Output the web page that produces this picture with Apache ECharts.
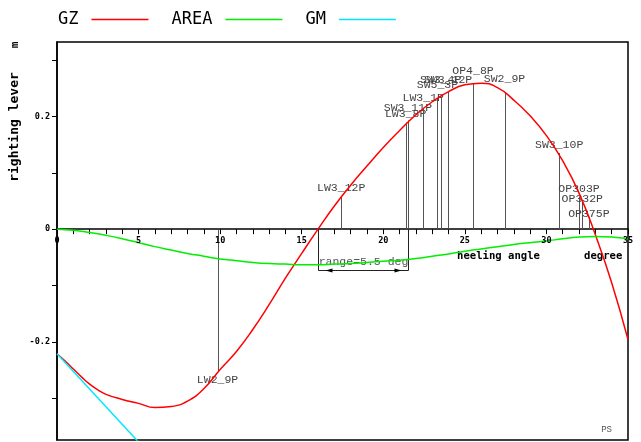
<!DOCTYPE html>
<html>
<head>
<meta charset="utf-8">
<script src="https://cdn.jsdelivr.net/npm/echarts@6/dist/echarts.min.js"></script>
<style>
  html, body { margin: 0; padding: 0; background: #fff; }
  #chart { width: 641px; height: 442px; }
</style>
</head>
<body>
<div id="chart"></div>
<script>
// ---------- data ----------
const gzAngles = [0, 0.5, 1, 1.5, 2, 2.5, 3, 4, 5, 6, 7, 8, 9, 10, 11, 12, 13, 14, 15, 16, 17, 18, 19, 20, 21, 22, 23, 24, 25, 26, 27, 28, 29, 30, 31, 32, 33, 34, 35];
const gzValues = [-0.221, -0.234, -0.248, -0.262, -0.275, -0.285, -0.293, -0.302, -0.309, -0.3165, -0.3145, -0.305, -0.283, -0.249, -0.217, -0.178, -0.134, -0.087, -0.043, 0.000, 0.041, 0.078, 0.112, 0.145, 0.175, 0.203, 0.226, 0.244, 0.256, 0.259, 0.251, 0.229, 0.201, 0.166, 0.121, 0.064, -0.010, -0.095, -0.196];

const areaAngles = [0, 1, 2, 3, 4, 5, 6, 7, 8, 9, 10, 11, 12, 13, 14, 15, 16, 17, 18, 19, 20, 21, 22, 23, 24, 25, 26, 27, 28, 29, 30, 31, 32, 33, 34, 35];
const areaValues = [0, -0.002, -0.006, -0.011, -0.017, -0.024, -0.031, -0.037, -0.043, -0.048, -0.053, -0.056, -0.059, -0.061, -0.062, -0.063, -0.063, -0.062, -0.061, -0.059, -0.057, -0.055, -0.052, -0.048, -0.044, -0.039, -0.035, -0.031, -0.027, -0.024, -0.021, -0.017, -0.014, -0.013, -0.014, -0.017];

const gmAngles = [0, 6];
const gmValues = [-0.221, -0.409];

const markerNames  = ['LW2_9P', 'LW3_12P', 'LW3_8P', 'SW3_11P', 'LW3_1P', 'SW5_3P', 'SW3_4P', 'SW3_12P', 'OP4_8P', 'SW2_9P', 'SW3_10P', 'OP303P', 'OP332P', 'OP375P'];
const markerAngles = [9.84, 17.42, 21.37, 21.51, 22.45, 23.32, 23.52, 23.97, 25.5, 27.43, 30.78, 32.0, 32.2, 32.6];
const markerTops   = [-0.253, 0.057, 0.189, 0.193, 0.214, 0.232, 0.235, 0.244, 0.259, 0.243, 0.135, 0.058, 0.048, 0.022];

const rangeStart = 16.0;
const rangeEnd = 21.5;
const rangeText = 'range=5.5 deg';

const xTickStep = 1;
const xLabelValues = [0, 5, 10, 15, 20, 25, 30, 35];
const yTickValues  = [-0.3, -0.2, -0.1, 0, 0.1, 0.2, 0.3];
const yLabelValues = [-0.2, 0, 0.2];

const legendNames = ['GZ', 'AREA', 'GM'];

// ---------- layout / style (not data) ----------
const labelRise = [8, 9, 9, 12, 11, 13, 17, 12, 12, 13, 8, 8, 3, 3];
const bracketDepth = -0.0726;
const markFont = 'Liberation Mono';

function pairs(xs, ys) { return xs.map((x, i) => [x, ys[i]]); }

const chart = echarts.init(document.getElementById('chart'), null, { renderer: 'canvas' });

const option = {
  animation: false,
  backgroundColor: '#fff',
  grid: {
    left: 57, right: 13, top: 42, bottom: 2,
    outerBoundsMode: 'none', containLabel: false,
    show: true, borderColor: '#000', borderWidth: 1.5, backgroundColor: 'transparent'
  },
  legend: {
    left: 53, top: 6,
    align: 'right',
    icon: 'rect',
    itemWidth: 57, itemHeight: 1.6,
    itemGap: 23,
    textStyle: { fontFamily: 'DejaVu Sans Mono', fontSize: 17, color: '#000', padding: [0, 8, 0, 0] },
    data: legendNames
  },
  xAxis: {
    type: 'value', min: 0, max: 35, interval: xTickStep,
    axisLine: { onZero: true, lineStyle: { color: '#000', width: 1.5 } },
    axisTick: { show: true, length: 5, lineStyle: { color: '#000', width: 1 } },
    axisLabel: { show: false },
    splitLine: { show: false }
  },
  yAxis: {
    type: 'value', min: -0.374, max: 0.332,
    axisLine: { show: true, onZero: false, lineStyle: { color: '#000', width: 1.5 } },
    axisTick: { show: true, length: 5, lineStyle: { color: '#000', width: 1 }, customValues: yTickValues },
    axisLabel: { customValues: yLabelValues, margin: 7, color: '#000', fontFamily: 'DejaVu Sans Mono', fontWeight: 'bold', fontSize: 8.5 },
    splitLine: { show: false }
  },
  graphic: [
    { type: 'text', x: 15, y: 127, rotation: Math.PI / 2,
      style: { text: 'righting lever', fill: '#000', font: 'bold 13px "DejaVu Sans Mono"', align: 'center', verticalAlign: 'middle' } },
    { type: 'text', x: 15, y: 45, rotation: Math.PI / 2,
      style: { text: 'm', fill: '#000', font: 'bold 11px "DejaVu Sans Mono"', align: 'center', verticalAlign: 'middle' } },
    { type: 'text', x: 457, y: 256,
      style: { text: 'heeling angle', fill: '#000', font: 'bold 10.6px "DejaVu Sans Mono"', align: 'left', verticalAlign: 'middle' } },
    { type: 'text', x: 584, y: 256,
      style: { text: 'degree', fill: '#000', font: 'bold 10.6px "DejaVu Sans Mono"', align: 'left', verticalAlign: 'middle' } },
    { type: 'text', x: 612, y: 430,
      style: { text: 'PS', fill: '#555', font: '9px "Liberation Mono"', align: 'right', verticalAlign: 'middle' } }
  ],
  series: [
    {
      name: 'GZ', type: 'line', data: pairs(gzAngles, gzValues),
      smooth: 0.5, showSymbol: false, symbol: 'none',
      lineStyle: { color: '#ff0000', width: 1.5 }, itemStyle: { color: '#ff0000' }, z: 3, clip: true
    },
    {
      name: 'AREA', type: 'line', data: pairs(areaAngles, areaValues),
      smooth: 0.5, showSymbol: false, symbol: 'none',
      lineStyle: { color: '#00ee00', width: 1.5 }, itemStyle: { color: '#00ee00' }, z: 3, clip: true
    },
    {
      name: 'GM', type: 'line', data: pairs(gmAngles, gmValues),
      showSymbol: false, symbol: 'none',
      lineStyle: { color: '#00e8ff', width: 1.5 }, itemStyle: { color: '#00e8ff' }, z: 3, clip: true
    },
    {
      // x tick labels, placed along the zero line
      type: 'custom', z: 4, clip: false,
      data: xLabelValues.map(v => [v, 0]),
      renderItem: function (params, api) {
        const v = api.value(0);
        const p = api.coord([v, 0]);
        return { type: 'text', x: p[0], y: p[1] + 12,
          style: { text: String(v), fill: '#000', fontFamily: 'DejaVu Sans Mono', fontWeight: 'bold', fontSize: 8.5,
                   align: 'center', verticalAlign: 'middle' } };
      }
    },
    {
      type: 'custom', z: 2, clip: true,
      data: pairs(markerAngles, markerTops),
      renderItem: function (params, api) {
        const i = params.dataIndex;
        const x = api.value(0), top = api.value(1);
        const p0 = api.coord([x, 0]);
        const p1 = api.coord([x, top]);
        const up = top >= 0;
        const lx = Math.round(p0[0]) + 0.5;
        return {
          type: 'group',
          children: [
            { type: 'line', shape: { x1: lx, y1: p0[1], x2: lx, y2: p1[1] },
              style: { stroke: '#555', lineWidth: 1 } },
            { type: 'text', x: p1[0], y: p1[1] + (up ? -labelRise[i] : labelRise[i]),
              style: { text: markerNames[i], fill: '#444', fontFamily: markFont, fontSize: 11.5,
                       align: 'center', verticalAlign: 'middle' } }
          ]
        };
      }
    },
    {
      type: 'custom', z: 2, clip: false,
      data: [[rangeStart, rangeEnd]],
      renderItem: function (params, api) {
        const a0 = api.coord([api.value(0), 0]);
        const b0 = api.coord([api.value(1), 0]);
        const a1 = api.coord([api.value(0), bracketDepth]);
        const ax = Math.round(a0[0]) + 0.5, bx = Math.round(b0[0]) + 0.5;
        const by = Math.round(a1[1]) + 0.5;
        return {
          type: 'group',
          children: [
            { type: 'polyline', shape: { points: [[ax, a0[1]], [ax, by], [bx, by], [bx, b0[1]]] },
              style: { stroke: '#222', lineWidth: 1, fill: null } },
            { type: 'polygon', shape: { points: [[ax + 7, by], [ax + 14, by - 2], [ax + 14, by + 2]] },
              style: { fill: '#000' } },
            { type: 'polygon', shape: { points: [[bx - 7, by], [bx - 14, by - 2], [bx - 14, by + 2]] },
              style: { fill: '#000' } },
            { type: 'text', x: (ax + bx) / 2, y: by - 9,
              style: { text: rangeText, fill: '#555', fontFamily: markFont, fontSize: 11.5,
                       align: 'center', verticalAlign: 'middle' } }
          ]
        };
      }
    }
  ]
};

chart.setOption(option);
</script>
</body>
</html>
